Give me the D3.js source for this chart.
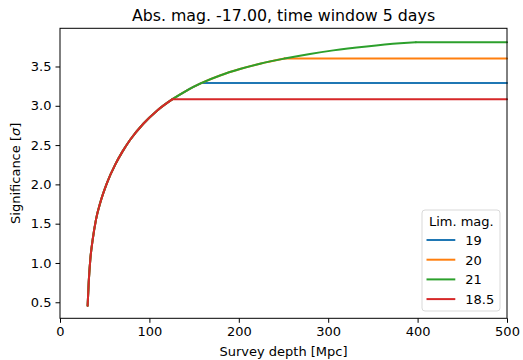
<!DOCTYPE html>
<html>
<head>
<meta charset="utf-8">
<script src="https://cdn.jsdelivr.net/npm/d3@7"></script>
<style>
  body { margin: 0; background: #fff; }
  text { font-family: "DejaVu Sans", sans-serif; fill: #000; }
</style>
</head>
<body>
<div id="chart"></div>
<script>
// Data: common significance curve vs survey depth
const depth = [30.9, 32.1, 33.9, 36.6, 40.3, 45.1, 52.6, 61.9, 70, 78.3, 93.2, 108.2,
               125.9, 141.7, 158.5, 179, 201.3, 223.7, 251.2, 279.6, 305.7, 343, 380.3, 398.1];
const sigma = [0.455, 0.75, 1.045, 1.30, 1.555, 1.77, 2.02, 2.255, 2.42, 2.565, 2.772, 2.935,
               3.084, 3.194, 3.291, 3.386, 3.468, 3.535, 3.601, 3.66, 3.705, 3.755, 3.795, 3.809];

// Series: limiting magnitude and the depth where each one stops rising
const limMags = ["19", "20", "21", "18.5"];
const limDepths = [158.5, 251.2, 398.1, 125.9];
const colors = ["#1f77b4", "#ff7f0e", "#2ca02c", "#d62728"];

const xTicks = [0, 100, 200, 300, 400, 500];
const yTicks = [0.5, 1.0, 1.5, 2.0, 2.5, 3.0, 3.5];

const W = 523, H = 360;
const margin = { top: 28.3, right: 16, bottom: 41.7, left: 60 };

const svg = d3.select("#chart")
    .append("svg")
    .attr("width", W)
    .attr("height", H);

const x = d3.scaleLinear().domain([0, 500]).range([margin.left, W - margin.right]);
const y = d3.scaleLinear().domain([0.296, 3.986]).range([H - margin.bottom, margin.top]);

// Build each series from the shared curve
const series = limMags.map((mag, i) => {
    const rising = depth.map((d, j) => [d, sigma[j]]).filter(p => p[0] <= limDepths[i]);
    const last = rising[rising.length - 1];
    return { mag, color: colors[i], rising, flat: [last, [500, last[1]]] };
});

const curveLine = d3.line()
    .x(d => x(d[0]))
    .y(d => y(d[1]))
    .curve(d3.curveMonotoneX);

const flatLine = d3.line()
    .x(d => x(d[0]))
    .y(d => y(d[1]));

// Lines
series.forEach(s => {
    const g = svg.append("g");
    g.append("path")
        .attr("d", curveLine(s.rising))
        .attr("fill", "none")
        .attr("stroke", s.color)
        .attr("stroke-width", 2)
        .attr("stroke-linecap", "round");
    g.append("path")
        .attr("d", flatLine(s.flat))
        .attr("fill", "none")
        .attr("stroke", s.color)
        .attr("stroke-width", 2)
        .attr("stroke-linecap", "round");
});

// Axes
const xAxis = d3.axisBottom(x).tickValues(xTicks).tickFormat(d3.format("d")).tickSizeOuter(0).tickSize(4.5).tickPadding(4);
const yAxis = d3.axisLeft(y).tickValues(yTicks).tickFormat(d3.format(".1f")).tickSizeOuter(0).tickSize(4.5).tickPadding(4);

const gx = svg.append("g")
    .attr("transform", `translate(0,${H - margin.bottom})`)
    .call(xAxis);
const gy = svg.append("g")
    .attr("transform", `translate(${margin.left},0)`)
    .call(yAxis);

[gx, gy].forEach(g => {
    g.select(".domain").remove();
    g.selectAll("line").attr("stroke", "#000").attr("stroke-width", 1);
    g.selectAll("text")
        .style("font-family", "DejaVu Sans, sans-serif")
        .style("font-size", "13px")
        .attr("fill", "#000");
});

// Frame (spines)
svg.append("rect")
    .attr("x", margin.left)
    .attr("y", margin.top)
    .attr("width", W - margin.left - margin.right)
    .attr("height", H - margin.top - margin.bottom)
    .attr("fill", "none")
    .attr("stroke", "#000")
    .attr("stroke-width", 1);

// Title
svg.append("text")
    .attr("x", (margin.left + W - margin.right) / 2)
    .attr("y", 21)
    .attr("text-anchor", "middle")
    .style("font-size", "15.8px")
    .text("Abs. mag. -17.00, time window 5 days");

// Axis labels
svg.append("text")
    .attr("x", (margin.left + W - margin.right) / 2)
    .attr("y", 356)
    .attr("text-anchor", "middle")
    .style("font-size", "13px")
    .text("Survey depth [Mpc]");

const yLabel = svg.append("text")
    .attr("transform", `translate(20,${(margin.top + H - margin.bottom) / 2}) rotate(-90)`)
    .attr("text-anchor", "middle")
    .style("font-size", "13px");
yLabel.append("tspan").text("Significance [");
yLabel.append("tspan").attr("font-style", "italic").text("σ");
yLabel.append("tspan").text("]");

// Legend
const legend = svg.append("g");
legend.append("rect")
    .attr("x", 422)
    .attr("y", 210)
    .attr("width", 78)
    .attr("height", 101)
    .attr("rx", 3)
    .attr("fill", "#fff")
    .attr("fill-opacity", 0.8)
    .attr("stroke", "#d9d9d9")
    .attr("stroke-width", 1);

legend.append("text")
    .attr("x", 461.3)
    .attr("y", 225.7)
    .attr("text-anchor", "middle")
    .style("font-size", "13px")
    .text("Lim. mag.");

series.forEach((s, i) => {
    const ly = 240 + i * 19.7;
    legend.append("line")
        .attr("x1", 426.5)
        .attr("x2", 455.3)
        .attr("y1", ly)
        .attr("y2", ly)
        .attr("stroke", s.color)
        .attr("stroke-width", 2);
    legend.append("text")
        .attr("x", 465.3)
        .attr("y", ly + 4.8)
        .style("font-size", "13px")
        .text(s.mag);
});
</script>
</body>
</html>
